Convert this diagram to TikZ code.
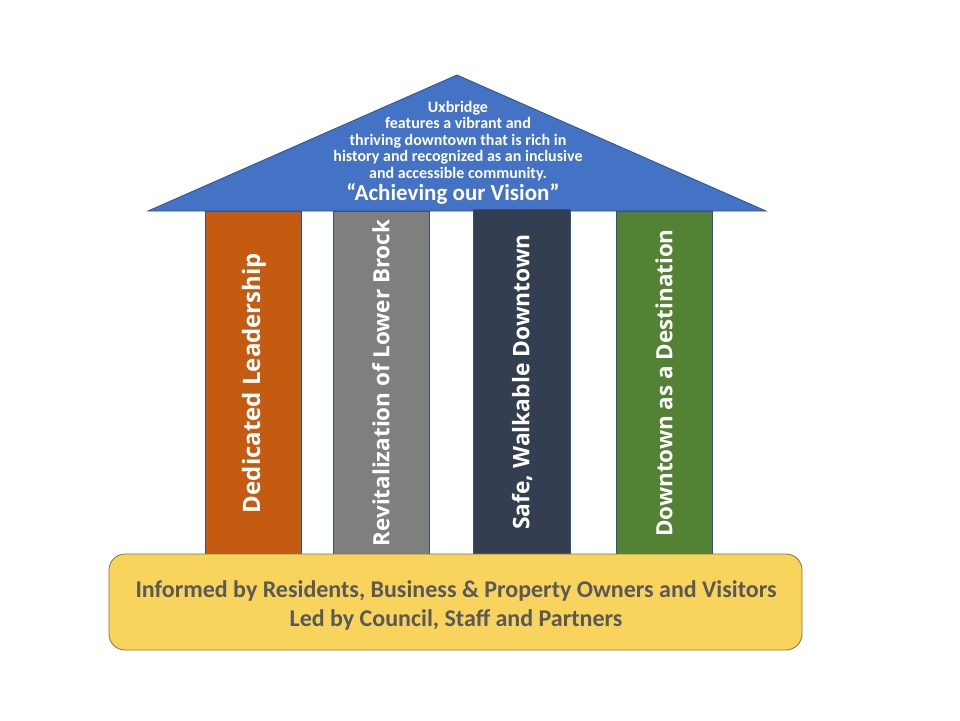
\documentclass[tikz,border=0pt]{standalone}
\usepackage{fontspec}
\setmainfont{Carlito}
\newfontfamily\colfont{Open Sans}
\definecolor{roofblue}{HTML}{4472C4}
\definecolor{edgeblue}{HTML}{2F528F}
\definecolor{colorange}{HTML}{C55A11}
\definecolor{colgray}{HTML}{7F7F7F}
\definecolor{colnavy}{HTML}{333F50}
\definecolor{colgreen}{HTML}{548235}
\definecolor{basegold}{HTML}{F9D45C}
\definecolor{baseedge}{HTML}{7A7A3A}
\definecolor{basetext}{HTML}{595959}
\tikzset{
  pillar/.style={draw=edgeblue, line width=0.8pt},
  pillartext/.style={text=white, font=\colfont\bfseries\fontsize{#1}{28}\selectfont, rotate=90},
}
\begin{document}
\begin{tikzpicture}[x=1pt,y=-1pt]
\useasboundingbox (0,0) rectangle (960,720);
% roof
\path[fill=roofblue, draw=edgeblue, line width=0.8pt] (457,75) -- (766,211) -- (148,211) -- cycle;
\node[text=white, font=\bfseries\fontsize{16}{16.5}\selectfont, align=center] (vision) at (458,141)
  {Uxbridge\\features a vibrant and\\thriving downtown that is rich in\\history and recognized as an inclusive\\and accessible community.};
\node[text=white, font=\bfseries\fontsize{23}{26}\selectfont] (achieve) at (453,194) {“Achieving our Vision”};
% pillars
\path[pillar, fill=colorange] (205,211) rectangle (301,554);
\path[pillar, fill=colgray] (333,211) rectangle (429,554);
\path[pillar, fill=colnavy] (473,209) rectangle (570,554);
\path[pillar, fill=colgreen] (616,211) rectangle (712,554);
\node[pillartext=24] (p1) at (254,383) {Dedicated Leadership};
\node[pillartext=22.4] (p2) at (381,383) {Revitalization of Lower Brock};
\node[pillartext=22.8] (p3) at (522,382) {Safe, Walkable Downtown};
\node[pillartext=22.4] (p4) at (664,383) {Downtown as a Destination};
% base
\path[fill=basegold, draw=baseedge, line width=0.8pt, rounded corners=16pt] (109,554) rectangle (802,650);
\node[text=basetext, font=\bfseries\fontsize{24}{29}\selectfont, align=center] (base) at (456,605)
  {Informed by Residents, Business \& Property Owners and Visitors\\Led by Council, Staff and Partners};
\end{tikzpicture}
\end{document}
